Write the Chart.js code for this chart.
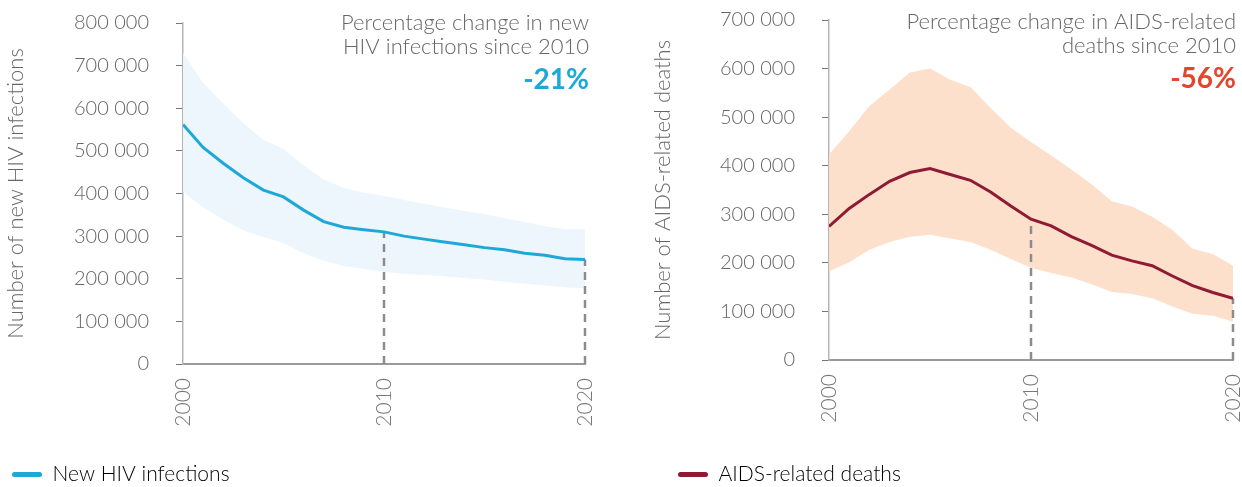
<!DOCTYPE html>
<html>
<head>
<meta charset="utf-8">
<script src="https://cdn.jsdelivr.net/npm/chart.js@4.4.1/dist/chart.umd.min.js"></script>
<style>
  html, body { margin: 0; padding: 0; background: #fff; overflow: hidden; }
  #wrap { position: relative; width: 1242px; height: 487px; overflow: hidden; }
  /* a little taller than the page so the legend sits close to the bottom edge */
  .box { position: absolute; top: 0; height: 495px; }
  #left { left: 0; width: 620px; }
  #right { left: 645px; width: 597px; }
</style>
</head>
<body>
<div id="wrap">
  <div class="box" id="left"><canvas id="hivChart"></canvas></div>
  <div class="box" id="right"><canvas id="deathChart"></canvas></div>
</div>
<script>
const years = [2000, 2001, 2002, 2003, 2004, 2005, 2006, 2007, 2008, 2009, 2010,
  2011, 2012, 2013, 2014, 2015, 2016, 2017, 2018, 2019, 2020];

// new HIV infections: estimate with lower/upper bounds
const hivMid = [562000, 508000, 471000, 437000, 408000, 392000, 361000, 334000, 321000, 315000, 310000,
  300000, 293000, 286000, 280000, 273000, 268000, 260000, 255000, 247000, 245000];
const hivHigh = [730000, 660000, 611000, 565000, 526000, 505000, 466000, 433000, 413000, 402000, 395000,
  385000, 376000, 367000, 359000, 352000, 342000, 333000, 324000, 316000, 316000];
const hivLow = [404000, 367000, 339000, 313000, 298000, 284000, 260000, 242000, 230000, 223000, 216000,
  212000, 209000, 206000, 202000, 198000, 193000, 188000, 184000, 180000, 177000];

// AIDS-related deaths: estimate with lower/upper bounds
const deathMid = [275000, 312000, 341000, 368000, 386000, 394000, 382000, 370000, 346000, 317000, 290000,
  276000, 254000, 236000, 216000, 204000, 194000, 173000, 153000, 139000, 127000];
const deathHigh = [423000, 471000, 523000, 557000, 592000, 600000, 577000, 562000, 519000, 478000, 449000,
  421000, 392000, 362000, 327000, 316000, 295000, 268000, 229000, 218000, 194000];
const deathLow = [182000, 201000, 227000, 243000, 254000, 258000, 250000, 243000, 227000, 208000, 190000,
  179000, 170000, 156000, 140000, 136000, 127000, 110000, 95000, 91000, 79000];

const baseYear = 2010;
const lastYear = 2020;

const font = { family: 'Lato', size: 20, weight: '300' };
const bigFont = { family: 'Lato', size: 22, weight: '300' };

function spaced(v) {
  return String(v).replace(/\B(?=(\d{3})+(?!\d))/g, ' ');
}

function pts(vals) {
  return vals.map((v, i) => ({ x: years[i], y: v }));
}

function dropLine(year, vals) {
  return [{ x: year, y: 0 }, { x: year, y: vals[years.indexOf(year)] }];
}

// percentage change text in the top right corner of the plot
const changeLabel = {
  id: 'changeLabel',
  afterDraw(chart, args, opts) {
    const { ctx, chartArea } = chart;
    const x = chartArea.right + opts.shift;
    ctx.save();
    ctx.textAlign = 'right';
    ctx.textBaseline = 'middle';
    ctx.fillStyle = '#666';
    ctx.font = '300 22px Lato';
    ctx.fillText(opts.lines[0], x, opts.top);
    ctx.fillText(opts.lines[1], x, opts.top + 24);
    const pct = Math.round((opts.to - opts.from) / opts.from * 100);
    ctx.fillStyle = opts.color;
    ctx.font = 'bold 28px Lato';
    ctx.fillText(pct + '%', x, opts.top + 57);
    ctx.restore();
  }
};

function buildChart(id, s) {
  const dash = {
    borderColor: '#8c8c8c', borderWidth: 2.5, borderDash: [8, 6],
    pointRadius: 0, fill: false, clip: false
  };
  return new Chart(id, {
    type: 'line',
    data: {
      datasets: [
        { label: s.name, data: pts(s.mid), borderColor: s.line, borderWidth: 3, pointRadius: 0, fill: false },
        Object.assign({ data: dropLine(baseYear, s.mid) }, dash),
        Object.assign({ data: dropLine(lastYear, s.mid) }, dash),
        { data: pts(s.high), borderWidth: 0, pointRadius: 0, backgroundColor: s.band, fill: '+1' },
        { data: pts(s.low), borderWidth: 0, pointRadius: 0, fill: false }
      ]
    },
    options: {
      responsive: true,
      maintainAspectRatio: false,
      animation: false,
      layout: { padding: { top: s.top, right: s.right, bottom: 0, left: 0 } },
      scales: {
        x: {
          type: 'linear', min: 2000, max: 2020,
          // fixed height, and no extra room asked for the end labels
          afterFit: sc => { sc.height = s.xh; sc.paddingLeft = 0; sc.paddingRight = 0; },
          grid: { display: false, drawTicks: false },
          border: { display: true, color: '#999', width: 2 },
          ticks: {
            stepSize: 10, minRotation: 90, maxRotation: 90, padding: 14,
            color: '#777', font: { family: 'Lato', size: 21, weight: '300' }, callback: v => String(v)
          }
        },
        y: {
          min: 0, max: s.max,
          afterFit: sc => { sc.width = s.yw; sc.paddingTop = 0; sc.paddingBottom = 0; },
          grid: { drawOnChartArea: false, tickLength: 7, tickColor: '#777', tickWidth: 1 },
          border: { color: '#b5b5b5', width: 1.5 },
          ticks: { stepSize: 100000, padding: 27, color: '#666', font, callback: v => spaced(v) },
          title: {
            display: true, text: s.yTitle, color: '#666', font: bigFont,
            padding: { top: s.titlePad, bottom: 0 }
          }
        }
      },
      plugins: {
        legend: {
          position: 'bottom',
          align: 'start',
          labels: {
            padding: s.legendPad, boxWidth: 30, boxHeight: 5, useBorderRadius: true, borderRadius: 2.5,
            color: '#666', font: { family: 'Lato', size: 21, weight: '300' },
            generateLabels: () => [{
              text: s.name, fillStyle: s.line, strokeStyle: s.line, lineWidth: 0,
              borderRadius: 2.5, datasetIndex: 0
            }]
          }
        },
        tooltip: { enabled: false },
        changeLabel: {
          lines: s.note, color: s.pctColor, top: s.noteTop, shift: s.shift,
          from: s.mid[years.indexOf(baseYear)], to: s.mid[years.indexOf(lastYear)]
        }
      }
    },
    plugins: [changeLabel]
  });
}

buildChart('hivChart', {
  name: 'New HIV infections',
  yTitle: 'Number of new HIV infections',
  mid: hivMid, high: hivHigh, low: hivLow,
  line: '#1ea8d8', band: '#eef6fd', pctColor: '#1ea8d8',
  note: ['Percentage change in new', 'HIV infections since 2010'],
  max: 800000, top: 23, right: 35, yw: 183, xh: 88, legendPad: 12, titlePad: 3,
  noteTop: 23, shift: 4
});

buildChart('deathChart', {
  name: 'AIDS-related deaths',
  yTitle: 'Number of AIDS-related deaths',
  mid: deathMid, high: deathHigh, low: deathLow,
  line: '#8e1a33', band: '#fde0cc', pctColor: '#e5452a',
  note: ['Percentage change in AIDS-related', 'deaths since 2010'],
  max: 700000, top: 20, right: 9, yw: 184, xh: 71, legendPad: 33, titlePad: 5,
  noteTop: 22, shift: 3
});
</script>
</body>
</html>
